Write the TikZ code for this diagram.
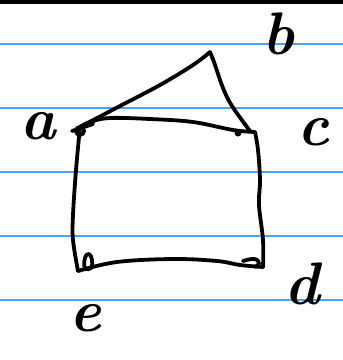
\documentclass[tikz,border=0pt]{standalone}
\begin{document}
\begin{tikzpicture}[x=1pt,y=-1pt,
  ink/.style={line width=3.8pt,line cap=round,line join=round,black},
  rule/.style={line width=1.2pt,color={rgb,255:red,70;green,165;blue,255}},
  lbl/.style={font=\fontsize{60}{60}\selectfont\bfseries\itshape,inner sep=0pt}]
\useasboundingbox (0,0) rectangle (343,360);
\fill[white] (0,0) rectangle (343,360);
\fill[black] (0,0) rectangle (343,3.5);
\foreach \yy in {44,108,172,236,300} \draw[rule] (0,\yy) -- (343,\yy);
% vertices
\coordinate (A) at (80,127);
\coordinate (B) at (210,52);
\coordinate (C) at (255,132);
\coordinate (Ct) at (250,131);
\coordinate (D) at (263,267);
\coordinate (E) at (78,271);
% edges
\draw[ink] plot[smooth,tension=0.6] coordinates {(A) (120,106) (160,85) (193,65) (B)};
\draw[ink] plot[smooth,tension=0.6] coordinates {(B) (214,62) (223,88) (232,106) (Ct)};
\draw[ink] plot[smooth,tension=0.6] coordinates {(A) (90,122) (110,118) (150,119) (193,122) (233,130) (C)};
\draw[ink] plot[smooth,tension=0.6] coordinates {(C) (258,150) (260,180) (259,205) (263,240) (D)};
\draw[ink] plot[smooth,tension=0.6] coordinates {(D) (240,265) (217,261) (173,259) (117,262) (E)};
\draw[ink] plot[smooth,tension=0.6] coordinates {(E) (73,240) (73,215) (76,170) (A)};
% corner marks
\draw[ink] (80,131) circle (4);
\draw[ink] (72,131) -- (93,124);
\fill (238,133) circle (3.5);
\draw[ink] plot[smooth cycle,tension=0.8] coordinates {(85,268) (85,258) (89,254) (92,260) (91,268)};
\draw[ink] plot[smooth,tension=0.8] coordinates {(243,261) (254,259) (259,263) (255,267)};
% labels
\node[lbl] (lb) at (278,34) {b};
\node[lbl] (la) at (38,126) {a};
\node[lbl] (lc) at (313,132) {c};
\node[lbl] (ld) at (302,284) {d};
\node[lbl] (le) at (85,318) {e};
\end{tikzpicture}
\end{document}
